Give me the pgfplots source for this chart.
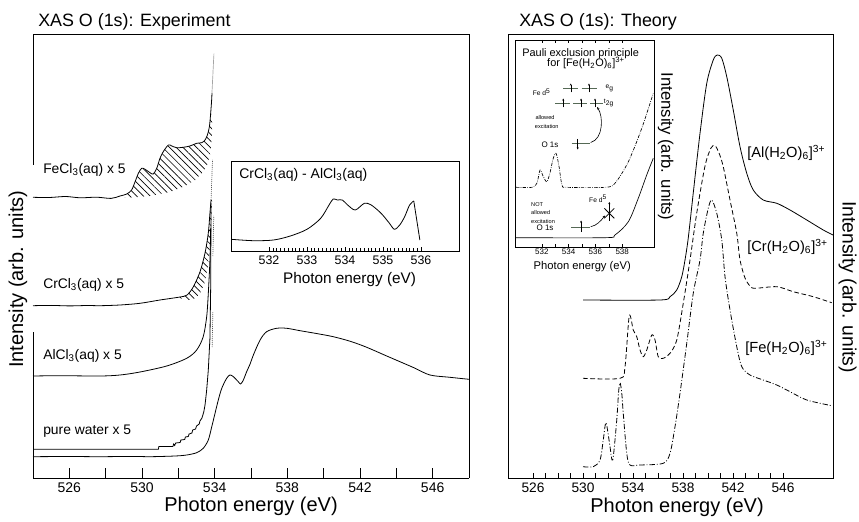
\documentclass[border=0pt]{standalone}
\usepackage{fontspec}
\setmainfont{Liberation Sans}
\usepackage{pgfplots}
\pgfplotsset{compat=1.18}
\usetikzlibrary{patterns,patterns.meta,arrows.meta}
\newcommand{\fs}[1]{\fontsize{#1}{#1}\selectfont}
\definecolor{lvl}{RGB}{85,105,85}
\begin{document}
\begin{tikzpicture}
\path[use as bounding box] (0,0) rectangle (644.25pt,390.75pt);
\node[anchor=base west,inner sep=0,font=\fs{13.4pt}] at (28.5pt,370.7pt) {XAS O (1s): Experiment};
\node[anchor=base west,inner sep=0,font=\fs{13.4pt}] at (389.25pt,370.7pt) {XAS O (1s): Theory};

% ---------------- left main axis ----------------
\begin{axis}[
  at={(24.75pt,32.25pt)}, anchor=south west, scale only axis,
  width=327pt, height=333pt,
  xmin=524, xmax=548, ymin=0, ymax=444,
  clip=false,
  separate axis lines,
  x axis line style={line width=0.6pt},
  y axis line style={draw=none},
  ytick=\empty,
  xtick={526,530,...,546}, minor xtick={528,532,...,544},
  xtick pos=left, tick align=inside,
  major tick length=7.5pt, minor tick length=7.5pt,
  tick style={black, line width=0.6pt},
  /pgf/number format/assume math mode=true,
  tick label style={font=\fs{10.5pt}},
  xlabel={Photon energy (eV)},
  xlabel style={font=\fs{15pt}, at={(axis description cs:0.5,-0.063)}, anchor=center},
  ylabel={Intensity (arb. units)},
  ylabel style={font=\fs{15pt}, at={(axis description cs:-0.0345,0.448)}, anchor=center},
]
\draw[line width=0.6pt] (rel axis cs:0,0) -- (rel axis cs:0,0.329);
\draw[line width=0.6pt] (rel axis cs:0,0.705) -- (rel axis cs:0,1);
\draw[line width=0.6pt] (rel axis cs:1,0) -- (rel axis cs:1,1);

% pure water x1
\addplot[black, line width=0.6pt, smooth, tension=0.5] coordinates {
(524.00,21.3)(526.0,21.5)(527.69,21.3)(529.5,21.6)(530.44,21.3)(531.82,22)(532.46,23)(533.01,25.3)(533.37,29.7)(533.65,38)(533.84,51.3)(534.02,64.7)(534.20,78)(534.39,89.7)(534.66,99.7)(534.84,103)(535.03,101.3)(535.30,96.3)(535.43,94)(535.58,98)(535.76,106.3)(535.95,114)(536.13,123)(536.50,138)(536.86,146.3)(537.41,149.7)(537.97,149.7)(538.70,147.3)(539.6,144.5)(540.53,141.3)(541.5,136.5)(542.37,130.7)(543.47,122)(544.20,116.3)(545.0,110)(545.85,103)(546.95,100.7)(548.00,98.7)};

% pure water x5 (stairs)
\addplot[black, line width=0.6pt] coordinates {
(524.00,28.7)(530.90,28.7)(530.93,31.5)(531.70,31.5)(531.74,34)(531.80,32.5)(531.85,35)(532.10,35.5)(532.14,38)(532.35,38.5)(532.39,41)(532.55,41.5)(532.59,44)(532.75,45)(532.79,48)(532.95,49)(533.0,52)(533.15,54)(533.19,57)(533.30,60)(533.40,66)(533.47,73)(533.56,88)(533.65,108)(533.74,140)(533.78,190)(533.80,275)};

% AlCl3 x5
\addplot[black, line width=0.6pt, smooth, tension=0.5] coordinates {
(524.00,102)(525.5,102.3)(527.69,102)(528.79,103)(529.89,106)(531.36,112)(532.46,119.7)(533.01,128)(533.37,141.3)(533.56,161.3)(533.65,184.7)(533.74,218)(533.78,250)};
\addplot[black, line width=0.5pt, densely dotted] coordinates {(533.86,131)(533.90,166)};

% CrCl3 x5 hatch
\addplot[draw=none, pattern={Lines[angle=-45,distance=3.4pt,line width=0.5pt]}] coordinates {
(532.09,181)(532.48,183)(532.82,191)(533.19,206)(533.47,225)(533.65,245)(533.74,265)(533.80,278)(533.86,278)(533.83,260)(533.74,232)(533.63,212)(533.47,196)(533.19,184)(532.81,178.5)(532.48,178)(532.09,180)};
% CrCl3 x5
\addplot[black, line width=0.6pt, smooth, tension=0.5] coordinates {
(524.00,172.3)(525.0,172.6)(526.0,172.1)(527.0,172.5)(527.69,172.3)(528.79,173)(529.89,174.7)(530.99,178)(532.09,181)(532.48,183)(532.82,191)(533.19,206)(533.47,225)(533.65,245)(533.74,265)(533.80,278)};
\addplot[black, line width=0.5pt, densely dotted] coordinates {(533.80,278)(533.88,318)};
\addplot[black, line width=0.5pt, densely dotted] coordinates {(533.90,222)(533.95,262)};

% FeCl3 x5 hatch
\addplot[draw=none, pattern={Lines[angle=-45,distance=3.6pt,line width=0.5pt]}] coordinates {
(529.06,282)(529.16,284)(529.43,288)(529.62,296.3)(529.80,304.7)(529.98,309.7)(530.17,308.7)(530.44,305.3)(530.62,304)(530.81,309.7)(530.99,319.7)(531.17,326.3)(531.45,333)(531.64,332)(531.91,330.3)(532.27,330.7)(532.64,332)(533.01,334.7)(533.29,335.3)(533.47,338)(533.60,343)(533.71,351.3)(533.78,364.7)(533.87,360)(533.85,345)(533.80,332)(533.74,322)(533.58,313)(533.36,306)(532.92,298)(532.37,292)(531.54,286)(530.44,282)(529.06,280)};
% FeCl3 x5
\addplot[black, line width=0.6pt, smooth, tension=0.5] coordinates {
(524.00,280.7)(524.9,280.5)(525.8,281.5)(526.6,280.2)(527.5,280.8)(528.3,279.6)(528.79,282)(529.16,284)(529.43,288)(529.62,296.3)(529.80,304.7)(529.98,309.7)(530.17,308.7)(530.44,305.3)(530.62,304)(530.81,309.7)(530.99,319.7)(531.17,326.3)(531.45,333)(531.64,332)(531.91,330.3)(532.27,330.7)(532.64,332)(533.01,334.7)(533.29,335.3)(533.47,338)(533.60,343)(533.71,351.3)(533.78,364.7)(533.84,379.7)(533.85,384.7)};
\addplot[black, line width=0.5pt, densely dotted] coordinates {(533.85,384.7)(533.96,424.7)};

\node[anchor=west,inner sep=0,font=\fs{10.4pt}] at (axis cs:524.55,308) {FeCl\textsubscript{3}(aq) x 5};
\node[anchor=west,inner sep=0,font=\fs{10.4pt}] at (axis cs:524.55,193) {CrCl\textsubscript{3}(aq) x 5};
\node[anchor=west,inner sep=0,font=\fs{10.4pt}] at (axis cs:524.55,122) {AlCl\textsubscript{3}(aq) x 5};
\node[anchor=west,inner sep=0,font=\fs{10.4pt}] at (axis cs:524.55,47) {pure water x 5};
\end{axis}

% ---------------- left inset ----------------
\begin{axis}[
  at={(173.25pt,202.5pt)}, anchor=south west, scale only axis,
  width=171pt, height=67.5pt,
  xmin=531, xmax=537, ymin=0, ymax=90,
  axis background/.style={fill=white},
  axis line style={line width=0.6pt},
  ytick=\empty,
  xtick={532,...,536}, minor x tick num=9,
  xtick pos=left, tick align=inside,
  major tick length=3pt, minor tick length=2pt,
  tick style={black, line width=0.4pt},
  /pgf/number format/assume math mode=true,
  tick label style={font=\fs{9.3pt}},
  xlabel={Photon energy (eV)},
  xlabel style={font=\fs{11.5pt}, at={(axis description cs:0.52,-0.32)}, anchor=center},
]
\addplot[black, line width=0.6pt, smooth, tension=0.5] coordinates {
(531.0,11.7)(531.59,10.3)(532.12,11)(532.56,15)(533.0,21.7)(533.36,32.7)(533.58,46)(533.69,52)(533.80,51)(533.93,51)(534.07,46)(534.27,41)(534.51,47.7)(534.69,46)(534.95,37.7)(535.17,27.7)(535.30,21.7)(535.44,26)(535.57,34.3)(535.70,46)(535.81,50)};
\addplot[black, line width=0.6pt] coordinates {(535.81,50)(535.97,11)};
\node[anchor=west,inner sep=0,font=\fs{10.5pt}] at (rel axis cs:0.035,0.844) {CrCl\textsubscript{3}(aq) - AlCl\textsubscript{3}(aq)};
\end{axis}

% ---------------- right main axis ----------------
\begin{axis}[
  at={(381pt,32.25pt)}, anchor=south west, scale only axis,
  width=243.75pt, height=333pt,
  xmin=524, xmax=550, ymin=0, ymax=444, clip=false,
  axis line style={line width=0.6pt},
  ytick=\empty,
  xtick={526,530,...,546}, minor x tick num=3,
  xtick pos=left, tick align=inside,
  major tick length=3.5pt, minor tick length=3.5pt,
  tick style={black, line width=0.5pt},
  /pgf/number format/assume math mode=true,
  tick label style={font=\fs{10.3pt}},
  xlabel={Photon energy (eV)},
  xlabel style={font=\fs{15pt}, at={(axis description cs:0.52,-0.065)}, anchor=center},
  ylabel={Intensity (arb. units)},
  ylabel style={font=\fs{14.5pt}, inner sep=0pt, rotate=180, at={(axis description cs:1.0446,0.43)}, anchor=center},
]
% Al
\addplot[black, line width=0.6pt, smooth, tension=0.5] coordinates {
(530.0,178)(536.16,178)(536.96,181.3)(537.50,188)(537.90,201.3)(538.16,218)(538.42,240)(538.82,285)(539.36,344.7)(539.90,394.7)(540.42,418)(540.74,423)(541.10,419.7)(541.50,401.3)(542.02,368)(542.56,331.3)(543.10,304.7)(543.62,288)(544.42,278)(545.50,274.7)(546.56,268)(547.90,258)(549.22,248)(550.00,243)};
% Cr
\addplot[black, line width=0.6pt, smooth, tension=0.5, dash pattern=on 3.5pt off 2pt] coordinates {
(530.0,99.7)(532.96,99.7)(533.36,111.3)(533.70,162)(534.02,148)(534.30,141.3)(534.56,128)(534.82,121.3)(535.10,128)(535.50,143)(535.76,138)(536.02,121.3)(536.42,119.7)(536.96,124.7)(537.50,138)(538.02,174.7)(538.56,218)(539.10,265)(539.76,312)(540.24,330)(540.56,332.3)(540.88,325)(541.22,311.3)(541.76,278)(542.30,244.7)(542.56,218)(542.96,200)(543.36,192)(543.76,189.7)(545.50,191.3)(546.82,186.3)(548.42,181.3)(549.90,175.3)};
% Fe
\addplot[black, line width=0.6pt, smooth, tension=0.5, dash pattern=on 4pt off 1.5pt on 0.7pt off 1.5pt] coordinates {
(530.0,11.3)(530.82,11.3)(531.36,18)(531.62,38)(531.82,55.3)(532.0,45)(532.16,31.3)(532.38,18)(532.70,58)(532.84,85)(532.96,95.3)(533.10,85)(533.22,64.7)(533.50,24.7)(533.76,13)(534.56,13)(536.42,14.7)(536.96,24.7)(537.36,51.3)(537.76,84.7)(538.30,134.7)(538.82,184.7)(539.36,218)(539.62,244.7)(540.02,269.7)(540.30,278)(540.70,264.7)(541.10,238)(541.36,201.3)(541.76,168)(542.30,131.3)(542.70,111.3)(543.36,103)(544.42,98)(545.50,93)(546.56,86.3)(547.90,78)(549.90,72.3)};
\node[anchor=west,inner sep=0,font=\fs{11pt}] at (axis cs:543.12,325) {[Al(H\textsubscript{2}O)\textsubscript{6}]\textsuperscript{3+}};
\node[anchor=west,inner sep=0,font=\fs{11pt}] at (axis cs:543.12,231) {[Cr(H\textsubscript{2}O)\textsubscript{6}]\textsuperscript{3+}};
\node[anchor=west,inner sep=0,font=\fs{11pt}] at (axis cs:542.96,130) {[Fe(H\textsubscript{2}O)\textsubscript{6}]\textsuperscript{3+}};
\end{axis}

% ---------------- right inset ----------------
\begin{axis}[
  at={(386.25pt,205.5pt)}, anchor=south west, scale only axis,
  width=104.5pt, height=155.25pt,
  xmin=530, xmax=540.4, ymin=4, ymax=211, clip=false,
  axis background/.style={fill=white},
  axis line style={line width=0.6pt},
  ytick=\empty,
  xtick={532,534,536,538}, minor x tick num=1,
  tick align=inside, xticklabel pos=left,
  major tick length=2.5pt, minor tick length=2.5pt,
  tick style={black, line width=0.4pt},
  /pgf/number format/assume math mode=true,
  tick label style={font=\fs{6pt}},
  xticklabel style={inner sep=1pt},
  xlabel={Photon energy (eV)},
  xlabel style={font=\fs{8.4pt}, at={(axis description cs:0.483,-0.095)}, anchor=center},
  ylabel={Intensity (arb. units)},
  ylabel style={font=\fs{12.5pt}, rotate=180, at={(axis description cs:1.082,0.485)}, anchor=center},
]
\addplot[black, line width=0.5pt, smooth, tension=0.5, dash pattern=on 2.5pt off 1pt on 0.5pt off 1pt] coordinates {
(530.07,63.7)(531.27,63.7)(531.64,68)(531.87,81)(532.09,75)(532.37,69.3)(532.61,78)(532.84,92)(533.06,97.7)(533.28,85)(533.51,66)(533.88,63.7)(536.72,63.7)(537.46,67.7)(538.46,89.3)(539.46,122.7)(540.32,157.7)};
\addplot[black, line width=0.5pt, smooth, tension=0.5] coordinates {
(530.07,13.3)(536.72,13.3)(537.46,16)(538.46,29.3)(539.20,52.7)(539.83,76)(540.32,92.7)};
% upper diagram
\node[font=\fs{8.2pt},inner sep=0] at (axis cs:534.9,197.7) {Pauli exclusion principle};
\node[font=\fs{8.2pt},inner sep=0] at (axis cs:535.3,187.7) {for [Fe(H\textsubscript{2}O)\textsubscript{6}]\textsuperscript{3+}};
\node[font=\fs{5pt},inner sep=0] at (axis cs:531.99,158.7) {Fe d\textsuperscript{5}};
\node[font=\fs{5pt},inner sep=0,anchor=west] at (axis cs:536.75,162.7) {e\textsubscript{g}};
\node[font=\fs{5pt},inner sep=0,anchor=west] at (axis cs:536.62,147.7) {t\textsubscript{2g}};
\node[font=\fs{4.2pt},inner sep=0] at (axis cs:532.24,133.3) {allowed};
\node[font=\fs{4.2pt},inner sep=0] at (axis cs:532.37,124.3) {excitation};
\node[font=\fs{6pt},inner sep=0] at (axis cs:532.61,106.7) {O 1s};
\draw[lvl, line width=0.9pt] (axis cs:533.60,162.7) -- (axis cs:534.68,162.7);
\draw[lvl, line width=0.9pt] (axis cs:534.98,162.7) -- (axis cs:536.10,162.7);
\draw[lvl, line width=0.9pt] (axis cs:532.99,147.7) -- (axis cs:534.10,147.7);
\draw[lvl, line width=0.9pt] (axis cs:534.35,147.7) -- (axis cs:535.35,147.7);
\draw[lvl, line width=0.9pt] (axis cs:535.60,147.7) -- (axis cs:536.59,147.7);
\draw[lvl, line width=0.9pt] (axis cs:534.23,107.7) -- (axis cs:535.60,107.7);
\draw[-{Stealth[length=1.6pt,width=1.5pt]}, line width=0.35pt] (axis cs:534.16,158.5) -- (axis cs:534.16,167.5);
\draw[-{Stealth[length=1.6pt,width=1.5pt]}, line width=0.35pt] (axis cs:535.52,158.5) -- (axis cs:535.52,167.5);
\draw[-{Stealth[length=1.6pt,width=1.5pt]}, line width=0.35pt] (axis cs:533.60,143.5) -- (axis cs:533.60,152.5);
\draw[-{Stealth[length=1.6pt,width=1.5pt]}, line width=0.35pt] (axis cs:534.93,143.5) -- (axis cs:534.93,152.5);
\draw[-{Stealth[length=1.6pt,width=1.5pt]}, line width=0.35pt] (axis cs:535.97,143.5) -- (axis cs:535.97,152.5);
\draw[-{Stealth[length=1.6pt,width=1.5pt]}, line width=0.35pt] (axis cs:534.68,112) -- (axis cs:534.68,101.5);
\draw[-{Stealth[length=2pt,width=1.7pt]}, line width=0.45pt] (axis cs:535.65,108.5) .. controls (axis cs:536.6,112) and (axis cs:536.6,135) .. (axis cs:536.12,144);
% lower diagram
\node[font=\fs{4.2pt},inner sep=0,anchor=west] at (axis cs:531.19,46.7) {NOT};
\node[font=\fs{4.2pt},inner sep=0,anchor=west] at (axis cs:531.19,38.3) {allowed};
\node[font=\fs{4.2pt},inner sep=0,anchor=west] at (axis cs:531.19,29.3) {excitation};
\node[font=\fs{5pt},inner sep=0] at (axis cs:536.2,52.5) {Fe d\textsuperscript{5}};
\node[font=\fs{6pt},inner sep=0] at (axis cs:532.24,23.3) {O 1s};
\draw[lvl, line width=0.9pt] (axis cs:534.18,23.3) -- (axis cs:535.60,23.3);
\draw[-{Stealth[length=1.6pt,width=1.5pt]}, line width=0.35pt] (axis cs:534.93,19) -- (axis cs:534.93,30.5);
\draw[-{Stealth[length=1.6pt,width=1.5pt]}, line width=0.35pt] (axis cs:537.04,30) -- (axis cs:537.04,49);
\draw[line width=0.6pt] (axis cs:536.67,32.7) -- (axis cs:537.41,42.7);
\draw[line width=0.6pt] (axis cs:536.67,42.7) -- (axis cs:537.41,32.7);
\draw[-{Stealth[length=2pt,width=1.7pt]}, line width=0.45pt] (axis cs:535.65,24.3) .. controls (axis cs:536.1,25.5) and (axis cs:536.4,30) .. (axis cs:536.72,35.5);
\end{axis}
\end{tikzpicture}
\end{document}
